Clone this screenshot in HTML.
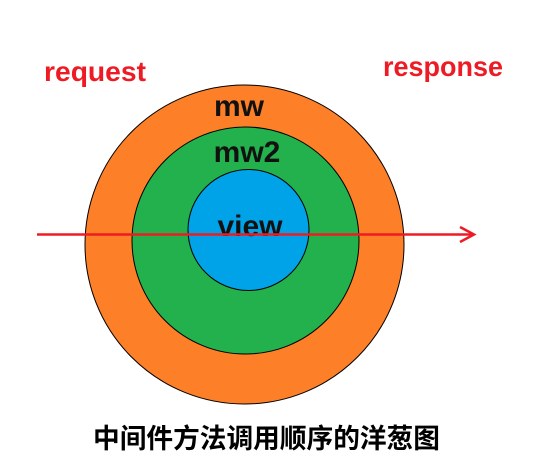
<!DOCTYPE html>
<html><head><meta charset="utf-8"><style>html,body{margin:0;padding:0;background:#fff}</style></head>
<body>
<svg width="543" height="466" xmlns="http://www.w3.org/2000/svg" style="display:block">
<circle cx="244.5" cy="244.5" r="159.5" fill="#fd7f27" stroke="#000" stroke-width="1"/>
<circle cx="245.5" cy="240.5" r="113.5" fill="#22b14c" stroke="#000" stroke-width="1"/>
<circle cx="248.5" cy="230" r="60.5" fill="#00a2e8" stroke="#000" stroke-width="1"/>
<g font-family="Liberation Sans, sans-serif" font-weight="bold" font-size="30" fill="#111" text-anchor="middle">
<text x="239" y="116">mw</text>
<text x="247" y="162">mw2</text>
<text x="250" y="236">view</text>
</g>
<g font-family="Liberation Sans, sans-serif" font-weight="bold" font-size="28" fill="#ed1c24">
<text x="44" y="81" textLength="102" lengthAdjust="spacingAndGlyphs">request</text>
<text x="383" y="76" textLength="120" lengthAdjust="spacingAndGlyphs">response</text>
</g>
<line x1="37" y1="234.5" x2="474" y2="234.5" stroke="#ed1c24" stroke-width="2.5"/>
<polyline points="460,227 474,234.5 460,242" fill="none" stroke="#ed1c24" stroke-width="2.5"/>
<text x="93" y="448" font-family="Liberation Sans, Noto Sans CJK SC, sans-serif" font-weight="bold" font-size="27" fill="#000" textLength="347" lengthAdjust="spacingAndGlyphs">中间件方法调用顺序的洋葱图</text>
</svg>
</body></html>
